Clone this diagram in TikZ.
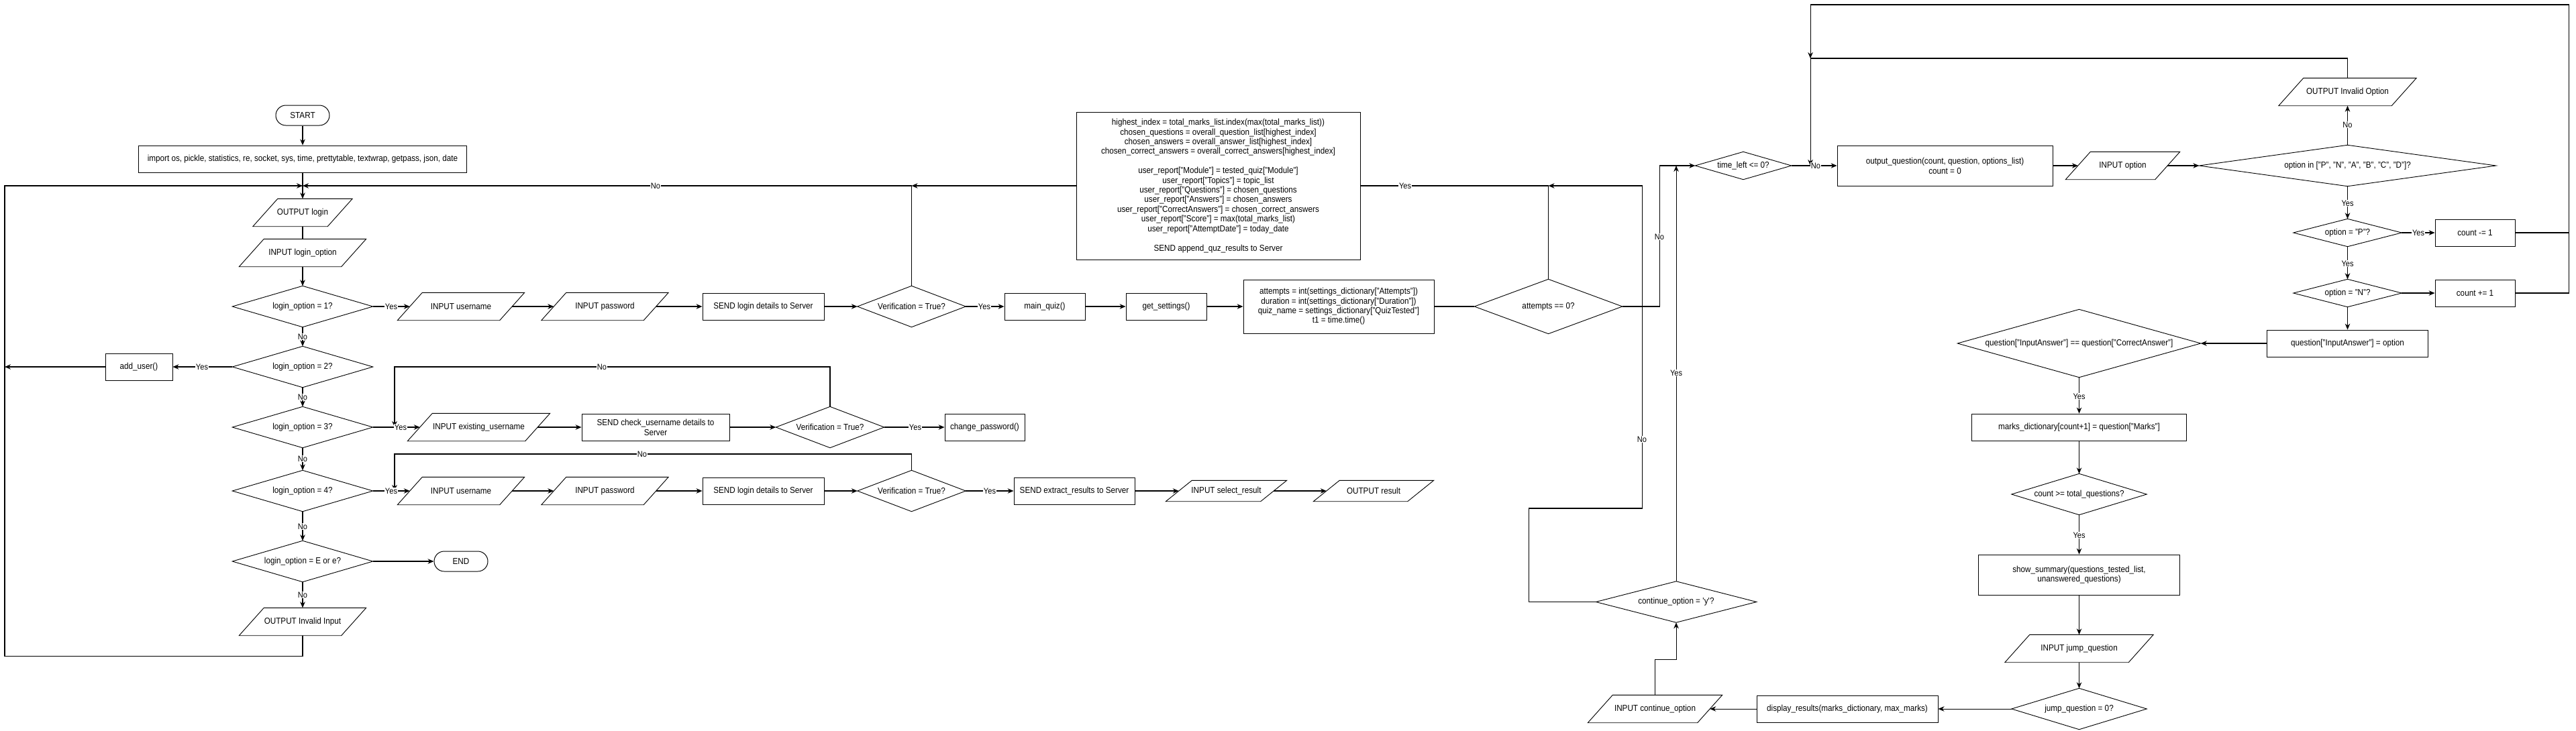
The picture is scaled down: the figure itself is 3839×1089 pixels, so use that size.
\documentclass[tikz,border=0pt]{standalone}
\usepackage{fontspec}
\setmainfont{Liberation Sans}[FakeStretch=0.9]
\usetikzlibrary{arrows.meta,calc}
\newcommand\drawio[2][18.5]{\draw[shp] ($(#2.north west)+(#1,0)$) -- ($(#2.north east)+(#1,0)$) -- ($(#2.south east)-(#1,0)$) -- ($(#2.south west)-(#1,0)$) -- cycle;}
\newcommand\drawdia[1]{\draw[shp] (#1.north) -- (#1.east) -- (#1.south) -- (#1.west) -- cycle;}
\begin{document}
\begin{tikzpicture}[x=0.1mm,y=-0.1mm,
 shp/.style={line width=0.26pt, black},
 base/.style={inner sep=0pt, align=center, font=\fontsize{3.7pt}{4.2pt}\selectfont},
 box/.style={base, draw, line width=0.25pt, rectangle, minimum height=4mm},
 io/.style={base, rectangle, minimum height=4mm},
 dia/.style={base, rectangle, minimum height=6mm},
 term/.style={base, draw, line width=0.28pt, rounded corners=1.5mm, minimum width=8mm, minimum height=3mm},
 arr/.style={line width=0.3pt, -{Stealth[length=0.9mm,width=0.75mm]}},
 ln/.style={line width=0.3pt},
 lbl/.style={fill=white, inner sep=0.3pt, font=\fontsize{3.5pt}{3.8pt}\selectfont},
]
\fill[white] (0,0) rectangle (3839,1089);
\useasboundingbox (0,0) rectangle (3839,1089);

% ---------- left column ----------
\node[term] (start) at (451,172) {START};
\node[box, minimum width=48.9mm] (imp) at (451,237) {import os, pickle, statistics, re, socket, sys, time, prettytable, textwrap, getpass, json, date};
\coordinate (m0) at (451,277);
\node[io, minimum width=11mm] (outlogin) at (451,317) {OUTPUT login}; \drawio{outlogin}
\node[io, minimum width=15.1mm] (inlogin) at (451,377) {INPUT login\_option}; \drawio{inlogin}
\node[dia, minimum width=20.8mm] (d1) at (451,457) {login\_option = 1?}; \drawdia{d1}
\node[dia, minimum width=20.8mm] (d2) at (451,547) {login\_option = 2?}; \drawdia{d2}
\node[dia, minimum width=20.8mm] (d3) at (451,637) {login\_option = 3?}; \drawdia{d3}
\node[dia, minimum width=20.8mm] (d4) at (451,732) {login\_option = 4?}; \drawdia{d4}
\node[dia, minimum width=20.8mm] (d5) at (451,837) {login\_option = E or e?}; \drawdia{d5}
\node[io, minimum width=15.1mm] (invalid) at (451,927) {OUTPUT Invalid Input}; \drawio{invalid}
\node[box, minimum width=10mm] (adduser) at (207,547) {add\_user()};
\node[term] (end) at (687,837) {END};

% ---------- row 1 ----------
\node[io, minimum width=15.1mm] (r1user) at (687,457) {INPUT username}; \drawio{r1user}
\node[io, minimum width=15.1mm] (r1pass) at (901.5,457) {INPUT password}; \drawio{r1pass}
\node[box, minimum width=18.1mm] (r1send) at (1137.5,457) {SEND login details to Server};
\node[dia, minimum width=16mm] (r1ver) at (1358.5,457) {Verification = True?}; \drawdia{r1ver}
\node[box, minimum width=12mm] (mainquiz) at (1557,457) {main\_quiz()};
\node[box, minimum width=12mm] (getset) at (1738,457) {get\_settings()};
\node[box, minimum width=28.4mm, minimum height=8mm, font=\fontsize{3.7pt}{4.1pt}\selectfont] (attbox) at (1995,457) {attempts = int(settings\_dictionary["Attempts"])\\duration = int(settings\_dictionary["Duration"])\\quiz\_name = settings\_dictionary["QuizTested"]\\t1 = time.time()};
\node[dia, minimum width=21.9mm, minimum height=8mm] (attd) at (2307.5,457) {attempts == 0?}; \drawdia{attd}
\node[box, minimum width=42.3mm, minimum height=22mm, font=\fontsize{3.7pt}{4.1pt}\selectfont] (bigbox) at (1815.5,277) {highest\_index = total\_marks\_list.index(max(total\_marks\_list))\\
chosen\_questions = overall\_question\_list[highest\_index]\\
chosen\_answers = overall\_answer\_list[highest\_index]\\
chosen\_correct\_answers = overall\_correct\_answers[highest\_index]\\[1.44mm]
user\_report["Module"] = tested\_quiz["Module"]\\
user\_report["Topics"] = topic\_list\\
user\_report["Questions"] = chosen\_questions\\
user\_report["Answers"] = chosen\_answers\\
user\_report["CorrectAnswers"] = chosen\_correct\_answers\\
user\_report["Score"] = max(total\_marks\_list)\\
user\_report["AttemptDate"] = today\_date\\[1.44mm]
SEND append\_quz\_results to Server};

% ---------- row 2 ----------
\node[io, minimum width=17.4mm] (r2user) at (713.5,637) {INPUT existing\_username}; \drawio{r2user}
\node[box, minimum width=22mm] (r2send) at (977,637) {SEND check\_username details to\\Server};
\node[dia, minimum width=16mm] (r2ver) at (1237,637) {Verification = True?}; \drawdia{r2ver}
\node[box, minimum width=11.9mm] (chpw) at (1467.5,637) {change\_password()};

% ---------- row 3 ----------
\node[io, minimum width=15.1mm] (r3user) at (687,732) {INPUT username}; \drawio{r3user}
\node[io, minimum width=15.1mm] (r3pass) at (901.5,732) {INPUT password}; \drawio{r3pass}
\node[box, minimum width=18.1mm] (r3send) at (1137.5,732) {SEND login details to Server};
\node[dia, minimum width=16mm] (r3ver) at (1358.5,732) {Verification = True?}; \drawdia{r3ver}
\node[box, minimum width=18mm] (extract) at (1601,732) {SEND extract\_results to Server};
\node[io, minimum width=14mm, minimum height=3mm] (selres) at (1827.5,732) {INPUT select\_result}; \drawio[19.5]{selres}
\node[io, minimum width=13.9mm, minimum height=3mm] (outres) at (2047,732) {OUTPUT result}; \drawio[19.5]{outres}

% ---------- right part ----------
\node[dia, minimum width=14.2mm, minimum height=4mm] (timed) at (2598,247) {time\_left <= 0?}; \drawdia{timed}
\node[box, minimum width=32.1mm, minimum height=6mm] (outq) at (2898.5,247) {output\_question(count, question, options\_list)\\count = 0};
\node[io, minimum width=13.2mm] (inopt) at (3163.5,247) {INPUT option}; \drawio{inopt}
\node[dia, minimum width=44.1mm] (optd) at (3498.5,247) {option in ["P", "N", "A", "B", "C", "D"]?}; \drawdia{optd}
\node[io, minimum width=16.7mm] (invopt) at (3498.5,137) {OUTPUT Invalid Option}; \drawio{invopt}
\node[dia, minimum width=16mm, minimum height=4mm] (pd) at (3498.5,347) {option = "P"?}; \drawdia{pd}
\node[box, minimum width=11.9mm] (cm) at (3688.5,347) {count -= 1};
\node[dia, minimum width=16mm, minimum height=4mm] (nd) at (3498.5,437) {option = "N"?}; \drawdia{nd}
\node[box, minimum width=11.9mm] (cp) at (3688.5,437) {count += 1};
\node[box, minimum width=24mm] (qia) at (3498.5,512) {question["InputAnswer"] = option};
\node[dia, minimum width=36.1mm, minimum height=10mm] (qd) at (3098.5,512) {question["InputAnswer"] == question["CorrectAnswer"]}; \drawdia{qd}
\node[box, minimum width=32mm] (marks) at (3098.5,637) {marks\_dictionary[count+1] = question["Marks"]};
\node[dia, minimum width=20mm, minimum height=6mm] (cntd) at (3098.5,737) {count >= total\_questions?}; \drawdia{cntd}
\node[box, minimum width=30mm, minimum height=6mm] (summ) at (3098.5,857) {show\_summary(questions\_tested\_list,\\unanswered\_questions)};
\node[io, minimum width=18.3mm] (jump) at (3098.5,967) {INPUT jump\_question}; \drawio{jump}
\node[dia, minimum width=20mm, minimum height=6mm] (jd) at (3098.5,1057) {jump\_question = 0?}; \drawdia{jd}
\node[box, minimum width=27mm] (disp) at (2753,1057) {display\_results(marks\_dictionary, max\_marks)};
\node[io, minimum width=16.2mm] (incont) at (2466.5,1057) {INPUT continue\_option}; \drawio{incont}
\node[dia, minimum width=23.8mm, minimum height=6mm] (contd) at (2498,897.5) {continue\_option = \textquotesingle y\textquotesingle ?}; \drawdia{contd}

% junction coordinates
\coordinate (j1) at (1358.5,277);
\coordinate (j2) at (2698,247);
\coordinate (j5) at (2698,87);
\coordinate (j3) at (2307.5,277);
\coordinate (j4) at (2498,247);
\coordinate (lft) at (7,547);

% ---------- connectors: left ----------
\draw[arr] (start) -- (imp);
\draw[arr] (imp.south) -- (outlogin.north);
\draw[ln] (outlogin) -- (inlogin);
\draw[arr] (inlogin) -- (d1);
\draw[arr] (d1.south) -- (d2.north);
\draw[arr] (d2.south) -- (d3.north);
\draw[arr] (d3.south) -- (d4.north);
\draw[arr] (d4.south) -- (d5.north);
\draw[arr] (d5.south) -- (invalid.north);
\draw[arr] (d5.east) -- (end.west);
\draw[arr] (invalid.south) -- (451,978) -- (7,978) -- (7,277) -- (m0);
\draw[arr] (d2.west) -- (adduser.east);
\draw[arr] (adduser.west) -- (lft);

% row 1
\draw[arr] (d1.east) -- (r1user.west);
\draw[arr] (r1user) -- (r1pass);
\draw[arr] (r1pass) -- (r1send);
\draw[arr] (r1send) -- (r1ver.west);
\draw[arr] (r1ver.east) -- (mainquiz);
\draw[arr] (mainquiz) -- (getset);
\draw[arr] (getset) -- (attbox);
\draw[ln] (attbox.east) -- (attd.west);
\draw[arr] (r1ver.north) |- (m0);
\draw[arr] (bigbox.west) -- (j1);
\draw[ln] (attd.north) |- (bigbox.east);
\draw[arr] (attd.east) -- (2473,457) |- (timed.west);

% row 2
\draw[arr] (d3.east) -- (r2user.west);
\draw[arr] (r2user) -- (r2send);
\draw[arr] (r2send) -- (r2ver.west);
\draw[arr] (r2ver.east) -- (chpw);
\draw[arr] (r2ver.north) -- (1237,547) -- (588,547) -- (588,637);

% row 3
\draw[arr] (d4.east) -- (r3user.west);
\draw[arr] (r3user) -- (r3pass);
\draw[arr] (r3pass) -- (r3send);
\draw[arr] (r3send) -- (r3ver.west);
\draw[arr] (r3ver.east) -- (extract);
\draw[arr] (extract) -- (selres);
\draw[arr] (selres) -- (outres);
\draw[arr] (r3ver.north) -- (1358.5,677) -- (588,677) -- (588,732);

% right part
\draw[arr] (timed.east) -- (outq.west);
\draw[arr] (outq) -- (inopt);
\draw[arr] (inopt) -- (optd.west);
\draw[arr] (optd.north) -- (invopt.south);
\draw[arr] (invopt.north) |- (j5) -- (j2);
\draw[arr] (cm.east) -- (3828,347) -- (3828,7) -- (2698,7) -- (j5);
\draw[ln] (cp.east) -- (3828,437) -- (3828,347);
\draw[arr] (optd.south) -- (pd.north);
\draw[arr] (pd.east) -- (cm.west);
\draw[arr] (pd.south) -- (nd.north);
\draw[arr] (nd.east) -- (cp.west);
\draw[arr] (nd.south) -- (qia.north);
\draw[arr] (qia.west) -- (qd.east);
\draw[arr] (qd.south) -- (marks.north);
\draw[arr] (marks) -- (cntd.north);
\draw[arr] (cntd.south) -- (summ.north);
\draw[arr] (summ) -- (jump);
\draw[arr] (jump) -- (jd.north);
\draw[arr] (jd.west) -- (disp.east);
\draw[arr] (disp) -- (incont.east);
\draw[arr] (incont.north) -- (2466.5,983) -| (contd.south);
\draw[arr] (contd.north) -- (j4);
\draw[arr] (contd.west) -- (2278,897.5) -- (2278,758) -- (2447,758) -- (2447,277) -- (j3);

% ---------- labels ----------
\node[lbl] (n1) at (451,502) {No};
\node[lbl] (n2) at (451,592) {No};
\node[lbl] (n3) at (451,684) {No};
\node[lbl] (n4) at (451,785) {No};
\node[lbl] (n5) at (451,887) {No};
\node[lbl] (y1) at (301,547) {Yes};
\node[lbl] (y2) at (583,457) {Yes};
\node[lbl] (y3) at (597,637) {Yes};
\node[lbl] (y4) at (583,732) {Yes};
\node[lbl] (n6) at (977,277) {No};
\node[lbl] (y5) at (1467,457) {Yes};
\node[lbl] (n7) at (897,547) {No};
\node[lbl] (n8) at (957,677) {No};
\node[lbl] (y6) at (1364,637) {Yes};
\node[lbl] (y7) at (1475,732) {Yes};
\node[lbl] (y8) at (2094,277) {Yes};
\node[lbl] (n9) at (2473,353) {No};
\node[lbl] (y9) at (2498,556) {Yes};
\node[lbl] (n10) at (2447,655) {No};
\node[lbl] (n11) at (2706,247) {No};
\node[lbl] (n12) at (3498.5,186) {No};
\node[lbl] (y10) at (3498.5,303) {Yes};
\node[lbl] (y11) at (3604,347) {Yes};
\node[lbl] (y12) at (3498.5,393) {Yes};
\node[lbl] (y13) at (3098.5,591) {Yes};
\node[lbl] (y14) at (3098.5,798) {Yes};
\end{tikzpicture}
\end{document}
